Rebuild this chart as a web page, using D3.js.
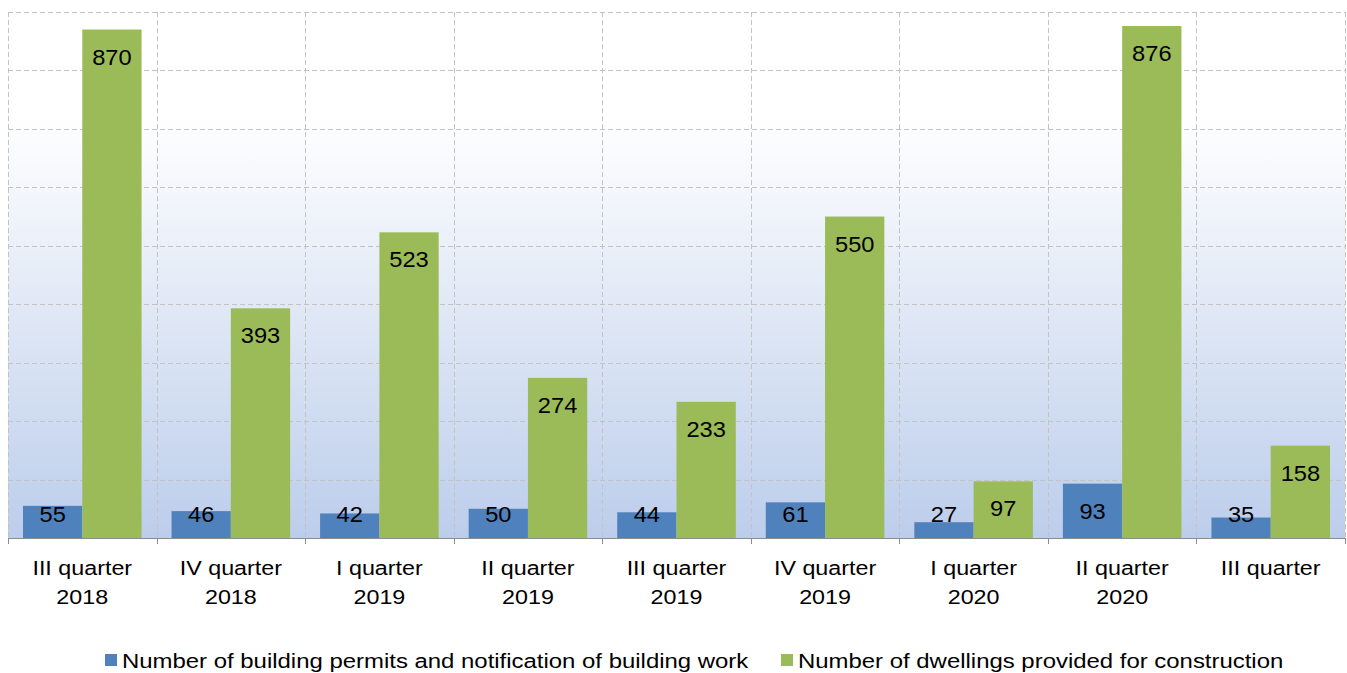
<!DOCTYPE html>
<html>
<head>
<meta charset="utf-8">
<script src="https://cdn.jsdelivr.net/npm/d3@7"></script>
<style>
  body { margin: 0; background: #fff; }
  text { font-family: "Liberation Sans", Arial, sans-serif; }
</style>
</head>
<body>
<script>
var quarters = ["III quarter", "IV quarter", "I quarter", "II quarter", "III quarter", "IV quarter", "I quarter", "II quarter", "III quarter"];
var years = ["2018", "2018", "2019", "2019", "2019", "2019", "2020", "2020", ""];
var permits = [55, 46, 42, 50, 44, 61, 27, 93, 35];
var dwellings = [870, 393, 523, 274, 233, 550, 97, 876, 158];
var seriesNames = ["Number of building permits and notification of building work", "Number of dwellings provided for construction"];
var seriesColors = ["#4f81bd", "#9bbb59"];
var yTicks = [0, 100, 200, 300, 400, 500, 600, 700, 800, 900];

function main(){
	var w = 1347, h = 673;
	var pLeft = 8, pRight = 1345, pTop = 12, pBottom = 538;

	var svg = d3.select("body").append("svg")
		.attr("width", w)
		.attr("height", h);

	var grad = svg.append("defs").append("linearGradient")
		.attr("id", "bg")
		.attr("x1", 0).attr("y1", 0).attr("x2", 0).attr("y2", 1);
	grad.append("stop").attr("offset", 0).attr("stop-color", "#ffffff");
	grad.append("stop").attr("offset", 0.2).attr("stop-color", "#ffffff");
	grad.append("stop").attr("offset", 1).attr("stop-color", "#bccdeb");

	var idx = d3.range(quarters.length);

	var x = d3.scaleBand().domain(idx).range([pLeft, pRight]).padding(0);
	var xs = d3.scaleBand().domain([0, 1]).range([0, x.bandwidth()]).paddingInner(0).paddingOuter(0.253);
	var y = d3.scaleLinear().domain([0, 900]).range([pBottom, pTop]);

	svg.append("rect")
		.attr("x", pLeft).attr("y", pTop)
		.attr("width", pRight - pLeft).attr("height", pBottom - pTop)
		.attr("fill", "url(#bg)");

	// horizontal grid
	svg.selectAll("line.hg")
		.data(yTicks.slice(1))
		.enter().append("line")
		.attr("class", "hg")
		.attr("x1", pLeft).attr("x2", pRight)
		.attr("y1", function(d){ return Math.round(y(d)) + 0.5; })
		.attr("y2", function(d){ return Math.round(y(d)) + 0.5; })
		.attr("stroke", "#c3c3c3")
		.attr("stroke-dasharray", "5,3");

	// vertical grid at category boundaries
	var bounds = idx.map(function(i){ return x(i); }).concat([pRight]);
	svg.selectAll("line.vg")
		.data(bounds)
		.enter().append("line")
		.attr("class", "vg")
		.attr("x1", function(d){ return Math.round(d) + 0.5; })
		.attr("x2", function(d){ return Math.round(d) + 0.5; })
		.attr("y1", pTop).attr("y2", pBottom)
		.attr("stroke", "#c3c3c3")
		.attr("stroke-dasharray", "5,3");

	var data = idx.map(function(i){ return [permits[i], dwellings[i]]; });

	var groups = svg.selectAll("g.cat")
		.data(data)
		.enter().append("g")
		.attr("class", "cat")
		.attr("transform", function(d, i){ return "translate(" + x(i) + ",0)"; });

	groups.selectAll("rect")
		.data(function(d){ return d; })
		.enter().append("rect")
		.attr("x", function(d, j){ return xs(j); })
		.attr("width", xs.bandwidth())
		.attr("y", function(d){ return y(d); })
		.attr("height", function(d){ return y(0) - y(d); })
		.attr("fill", function(d, j){ return seriesColors[j]; });

	groups.selectAll("g.val")
		.data(function(d){ return d; })
		.enter().append("g")
		.attr("class", "val")
		.attr("transform", function(d, j){
			return "translate(" + (xs(j) + xs.bandwidth() / 2) + "," + Math.min(y(d) + 35, 522) + ") scale(1.1,1)";
		})
		.append("text")
		.attr("text-anchor", "middle")
		.attr("font-size", 21.5)
		.attr("fill", "#000")
		.text(function(d){ return d; });

	// x axis
	var xAxis = svg.append("g");
	xAxis.append("line")
		.attr("x1", pLeft).attr("x2", pRight)
		.attr("y1", pBottom + 0.5).attr("y2", pBottom + 0.5)
		.attr("stroke", "#8c8c8c");
	xAxis.selectAll("line.tk")
		.data(bounds)
		.enter().append("line")
		.attr("x1", function(d){ return Math.round(d) + 0.5; })
		.attr("x2", function(d){ return Math.round(d) + 0.5; })
		.attr("y1", pBottom).attr("y2", pBottom + 6)
		.attr("stroke", "#8c8c8c");

	var lab = xAxis.selectAll("g.cl")
		.data(idx)
		.enter().append("g")
		.attr("class", "cl")
		.attr("transform", function(i){ return "translate(" + (x(i) + x.bandwidth() / 2) + ",0) scale(1.11,1)"; })
		.append("text")
		.attr("text-anchor", "middle")
		.attr("font-size", 21)
		.attr("fill", "#000");
	lab.append("tspan")
		.attr("x", 0).attr("y", 575)
		.text(function(i){ return quarters[i]; });
	lab.append("tspan")
		.attr("x", 0).attr("y", 604)
		.text(function(i){ return years[i]; });

	// legend
	var legendX = [105, 781];
	var leg = svg.selectAll("g.leg")
		.data(seriesNames)
		.enter().append("g")
		.attr("class", "leg")
		.attr("transform", function(d, i){ return "translate(" + legendX[i] + ",654)"; });
	leg.append("rect")
		.attr("width", 12).attr("height", 12)
		.attr("fill", function(d, i){ return seriesColors[i]; });
	leg.append("g")
		.attr("transform", "translate(17,14) scale(1.14,1)")
		.append("text")
		.attr("font-size", 21)
		.attr("fill", "#000")
		.text(function(d){ return d; });
}

main();
</script>
</body>
</html>
